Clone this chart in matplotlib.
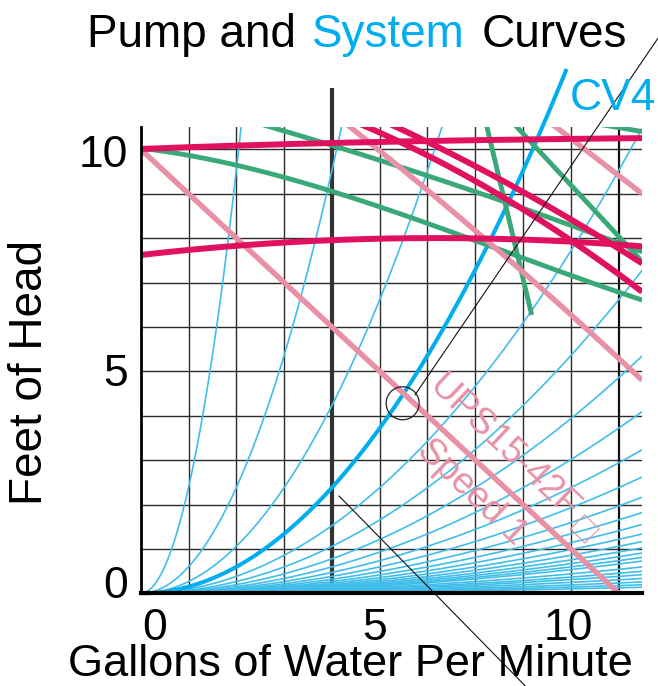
import numpy as np
import matplotlib
matplotlib.use("Agg")
import matplotlib.pyplot as plt
from matplotlib.patches import Ellipse, Polygon

plt.rcParams['font.family'] = ['Liberation Sans', 'DejaVu Sans']

# ---------------- data ----------------
x_ticks = [0, 5, 10]
x_tick_labels = ['0', '5', '10']
y_ticks = [0, 5, 10]
y_tick_labels = ['0', '5', '10']

# system curves: head = coef * (gpm / Cv)^2
system_cv = [1, 2, 3, 5, 6, 7, 8, 9, 10, 11, 12, 13, 14, 15, 16, 17, 18, 19,
             21, 23, 25, 28, 32, 37, 44]
highlight_cv = 4
head_coef = 2.38

# pump curves (gpm, feet of head)
red_top_x = [0, 1, 2, 4, 5.43, 7.52, 10.49]
red_top_y = [10.0, 10.06, 10.08, 10.14, 10.17, 10.22, 10.25]
red_low_x = [0, 1, 2, 4, 5.43, 7.3, 8.8, 10.49]
red_low_y = [7.62, 7.73, 7.84, 7.94, 7.98, 8.0, 7.95, 7.8]
red_a_x = [4.3, 7.3, 10.49]
red_a_y = [10.7, 9.1, 6.79]
red_b_x = [4.95, 7.3, 10.49]
red_b_y = [10.7, 9.45, 7.43]

green_1_x = [0, 1, 2, 4, 5.43, 7.3, 10.49]
green_1_y = [10.0, 9.91, 9.63, 9.05, 8.52, 7.85, 6.6]
green_2_x = [2.0, 2.53, 4.0, 5.0, 7.52, 10.49]
green_2_y = [10.72, 10.55, 10.1, 9.78, 8.82, 7.7]
green_3_x = [7.2, 8.18]
green_3_y = [10.7, 6.27]
green_4_x = [7.7, 10.49]
green_4_y = [10.7, 7.47]
green_5_x = [9.0, 10.49]
green_5_y = [10.67, 10.4]

pink_1_x = [0, 10.0]
pink_1_y = [10.0, 0.0]
pink_2_x = [4.15, 7.45, 10.49]
pink_2_y = [10.7, 7.75, 4.8]
pink_3_x = [8.45, 10.49]
pink_3_y = [10.7, 9.0]

# annotation geometry (data units)
circle_xy = (5.48, 4.28)
leader_1 = ([5.74, 11.08], [4.47, 12.91])
leader_2 = ([4.15, 8.04], [2.19, -2.08])
diamond_xy = (9.29, 1.45)

# ---------------- style ----------------
RED = '#e0115f'
GREEN = '#3aa878'
PINK = '#e890a6'
BLUE = '#40bee9'
CYAN = '#00aeef'

W, H = 658, 686
fig = plt.figure(figsize=(W / 100, H / 100), dpi=100)
x0, x1 = 140.7, 642.0
y0, y1 = 593.3, 126.7
ax = fig.add_axes([x0 / W, 1 - y0 / H, (x1 - x0) / W, (y0 - y1) / H])
ax.set_xlim(0, (x1 - x0) / 47.8)
ax.set_ylim(0, (y0 - y1) / 44.4)
xmax = (x1 - x0) / 47.8

for s in ['top', 'right']:
    ax.spines[s].set_visible(False)
ax.spines['left'].set_linewidth(2.0)
ax.spines['bottom'].set_linewidth(3.0)
ax.spines['left'].set_zorder(8)
ax.spines['bottom'].set_zorder(8)
ax.set_xticks(x_ticks)
ax.set_yticks(y_ticks)
ax.tick_params(length=0, labelbottom=False, labelleft=False)

# grid
for gy in range(1, 11):
    ax.axhline(gy, color='#2a2a2a', lw=1.0, zorder=1)
for gx in range(1, 11):
    if gx == 4:
        continue
    ax.axvline(gx, color='#2a2a2a' if gx != 10 else '#111111',
               lw=1.0 if gx != 10 else 1.6, zorder=1)
ax.plot([4, 4], [0, 11.37], color='#333333', lw=3.0, clip_on=False,
        zorder=1, solid_capstyle='butt')

# system curves
q = np.linspace(0, xmax, 400)
for cv in system_cv:
    ax.plot(q, head_coef * (q / cv) ** 2, color=BLUE, lw=1.2, zorder=2)
q4 = np.linspace(0, 8.91, 300)
ax.plot(q4, head_coef * (q4 / highlight_cv) ** 2, color=CYAN, lw=2.9,
        zorder=3, clip_on=False, solid_capstyle='butt')

def smooth(xs, ys, deg):
    xs = np.asarray(xs, float); ys = np.asarray(ys, float)
    if len(xs) <= 2:
        return xs, ys
    p = np.polyfit(xs, ys, min(deg, len(xs) - 1))
    xx = np.linspace(xs[0], xs[-1], 200)
    return xx, np.polyval(p, xx)

for xs, ys, d in [(green_1_x, green_1_y, 3), (green_2_x, green_2_y, 2),
                  (green_3_x, green_3_y, 1), (green_4_x, green_4_y, 1),
                  (green_5_x, green_5_y, 1)]:
    xx, yy = smooth(xs, ys, d)
    ax.plot(xx, yy, color=GREEN, lw=3.5, zorder=4, solid_capstyle='butt')
for xs, ys, d in [(pink_1_x, pink_1_y, 1), (pink_2_x, pink_2_y, 2),
                  (pink_3_x, pink_3_y, 1)]:
    xx, yy = smooth(xs, ys, d)
    ax.plot(xx, yy, color=PINK, lw=3.9, zorder=5, solid_capstyle='butt')
for xs, ys, d in [(red_top_x, red_top_y, 3), (red_low_x, red_low_y, 2),
                  (red_a_x, red_a_y, 2), (red_b_x, red_b_y, 2)]:
    xx, yy = smooth(xs, ys, d)
    ax.plot(xx, yy, color=RED, lw=4.3, zorder=6, solid_capstyle='butt')

# annotations
ax.add_patch(Ellipse(circle_xy, 33 / 47.8, 33 / 44.4, fill=False,
                     ec='#222222', lw=0.9, zorder=7))
ax.plot(*leader_1, color='#111111', lw=0.8, clip_on=False, zorder=7)
ax.plot(*leader_2, color='#111111', lw=0.8, clip_on=False, zorder=7)
dx, dy = 0.30, 0.315
cx, cy = diamond_xy
ax.add_patch(Polygon([(cx - dx, cy), (cx, cy + dy), (cx + dx, cy), (cx, cy - dy)],
                     closed=True, fill=False, ec=PINK, lw=0.8, zorder=7))

# tick labels
x_off = [14, -5, -50]
for xv, lab, off in zip(x_ticks, x_tick_labels, x_off):
    ax.annotate(lab, xy=(xv, 0), xytext=(off, -47), textcoords='offset pixels',
                ha='center', va='baseline', fontsize=32, annotation_clip=False)
y_off = [-5, -15, -17.4]
for yv, lab, off in zip(y_ticks, y_tick_labels, y_off):
    ax.annotate(lab, xy=(0, yv), xytext=(-13, off), textcoords='offset pixels',
                ha='right', va='baseline', fontsize=32, annotation_clip=False)

# title
fig.text(86.7 / W, 1 - 46.7 / H, 'Pump and', fontsize=33, va='baseline', ha='left')
fig.text(312 / W, 1 - 46.7 / H, 'System', fontsize=33, va='baseline', ha='left',
         color=CYAN)
fig.text(482 / W, 1 - 46.7 / H, 'Curves', fontsize=33, va='baseline', ha='left')

# axis labels
fig.text(350 / W, 1.0 / H, 'Gallons of Water Per Minute', fontsize=32.5,
         ha='center', va='bottom')
fig.text(42 / W, 1 - 372 / H, 'Feet of Head', fontsize=33, rotation=90,
         rotation_mode='anchor', ha='center', va='baseline')

# CV4 label
fig.text(569.3 / W, 1 - 110 / H, 'CV4', fontsize=32, color=CYAN,
         ha='left', va='baseline')

# pump model label
fig.text(503 / W, 1 - 447 / H, 'UPS15-42F', fontsize=26.5, color=PINK,
         rotation=-43.5, rotation_mode='anchor', ha='center', va='center')
fig.text(472 / W, 1 - 492 / H, 'Speed 1', fontsize=26.5, color=PINK,
         rotation=-43.5, rotation_mode='anchor', ha='center', va='center')

fig.savefig('out.png', dpi=100)
